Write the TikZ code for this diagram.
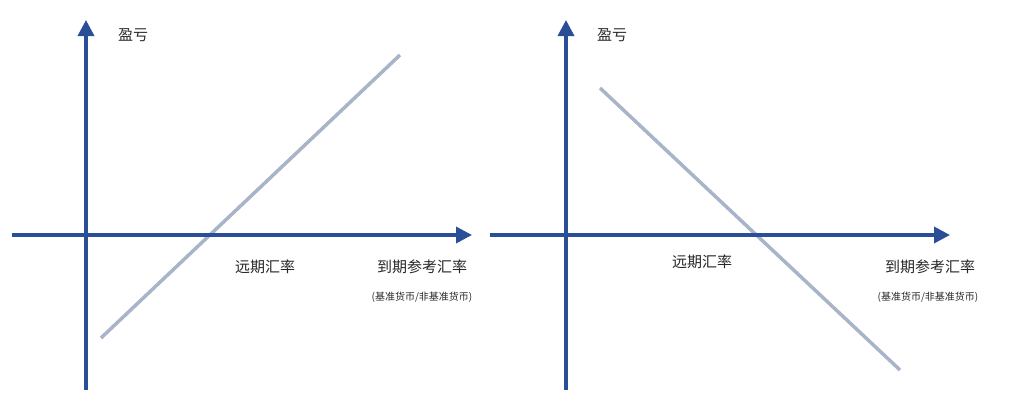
\documentclass[tikz,border=0pt]{standalone}
\usepackage{fontspec}
\setmainfont{Noto Sans CJK SC}
\usetikzlibrary{arrows.meta}
\definecolor{axc}{HTML}{2B4E98}
\definecolor{lnc}{HTML}{A8B5C8}
\begin{document}
\begin{tikzpicture}[x=1pt,y=-1pt,
  axis/.style={draw=axc,line width=3.5pt,-{Triangle[length=16pt,width=16pt]}},
  pl/.style={draw=lnc,line width=3.5pt},
  lab/.style={font=\fontsize{15}{18}\selectfont,text=black!85},
  sub/.style={font=\fontsize{10}{12}\selectfont,text=black!85}]
\useasboundingbox (0,0) rectangle (1024,402);
% left
\coordinate (lv0) at (86,390); \coordinate (lv1) at (86,20);
\coordinate (lh0) at (12,235); \coordinate (lh1) at (472,235);
\coordinate (ll0) at (101,338); \coordinate (ll1) at (400,55);
\draw[pl] (ll0) -- (ll1);
\draw[axis] (lv0) -- (lv1);
\draw[axis] (lh0) -- (lh1);
\node[lab] (a1) at (133,35) {盈亏};
\node[lab] (a2) at (265,267) {远期汇率};
\node[lab] (a3) at (422,267) {到期参考汇率};
\node[sub] (a4) at (422,297) {(基准货币/非基准货币)};
% right
\coordinate (rv0) at (566,390); \coordinate (rv1) at (566,20);
\coordinate (rh0) at (490,235); \coordinate (rh1) at (950,235);
\coordinate (rl0) at (600,88); \coordinate (rl1) at (900,370);
\draw[pl] (rl0) -- (rl1);
\draw[axis] (rv0) -- (rv1);
\draw[axis] (rh0) -- (rh1);
\node[lab] (b1) at (612,35) {盈亏};
\node[lab] (b2) at (702,262) {远期汇率};
\node[lab] (b3) at (930,267) {到期参考汇率};
\node[sub] (b4) at (928,297) {(基准货币/非基准货币)};
\end{tikzpicture}
\end{document}
